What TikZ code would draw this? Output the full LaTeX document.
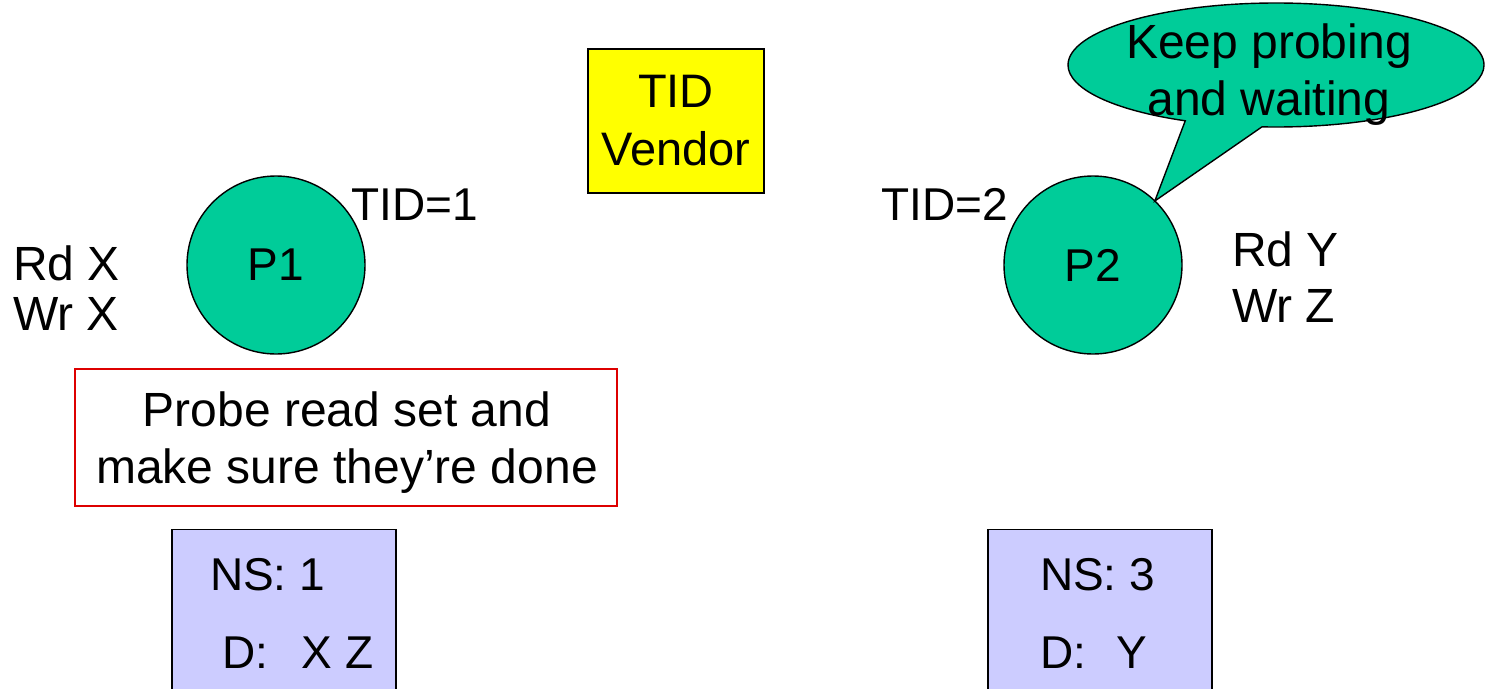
\documentclass[tikz,border=0pt]{standalone}
\usepackage{fontspec}
\setmainfont{Liberation Sans}
\usetikzlibrary{shapes.callouts}
\definecolor{procgreen}{HTML}{00CC99}
\definecolor{nsblue}{HTML}{CCCCFF}
\definecolor{vendyellow}{HTML}{FFFF00}
\definecolor{probered}{HTML}{DD0000}

\begin{document}
\begin{tikzpicture}[x=1pt,y=-1pt,
  txt/.style={font=\fontsize{46}{56}\selectfont, inner sep=0pt, outer sep=0pt},
  proc/.style={circle, draw=black, line width=1.4pt, fill=procgreen,
    minimum size=178pt, txt},
  vendorbox/.style={rectangle, draw=black, line width=1.4pt, fill=vendyellow,
    minimum width=176pt, minimum height=144pt, txt, align=center,
    font=\fontsize{47}{58}\selectfont},
  probebox/.style={rectangle, draw=probered, line width=1.4pt, fill=white,
    minimum width=542pt, minimum height=137pt, inner sep=0pt},
  nsbox/.style={rectangle, draw=black, line width=1.4pt, fill=nsblue,
    minimum width=224pt, minimum height=200pt, inner sep=0pt, anchor=north},
  bubble/.style={ellipse callout, draw=black, line width=1.4pt, fill=procgreen,
    minimum width=416pt, minimum height=124pt, inner sep=0pt,
    callout pointer arc=22},
  ops/.style={txt, align=left}
]
\useasboundingbox (0,0) rectangle (1485,688);
\clip (0,0) rectangle (1485,688);

% TID vendor
\node[vendorbox] (vendor) at (676,121) {TID\\Vendor};

% processors
\node[proc] (p1) at (276,265) {P1};
\node[proc] (p2) at (1093,265) {P2};

% assigned transaction ids
\node[txt, anchor=base] (tid1) at (415,220) {TID=1};
\node[txt, anchor=base] (tid2) at (945,220) {TID=2};

% read / write sets
\node[ops, anchor=west, font=\fontsize{48}{50}\selectfont] (ops1) at (13,288.5) {Rd X\\Wr X};
\node[ops, anchor=west, font=\fontsize{48}{56}\selectfont] (ops2) at (1232,277) {Rd Y\\Wr Z};

% speech bubble of P2
\node[bubble, callout absolute pointer={(p2.46)}] (wait) at (1276,65) {};
\node[txt, align=center, font=\fontsize{48}{57}\selectfont] (waittext) at (1269,74.5)
  {Keep probing\\and waiting};

% probe note of P1
\node[probebox] (probe) at (346,437.5) {};
\node[txt, align=center, font=\fontsize{48}{57}\selectfont] (probetext) at (347,443)
  {Probe read set and\\make sure they’re done};

% name-server boxes
\node[nsbox] (ns1) at (284,529) {};
\node[txt, anchor=base west] (ns1a) at (210,590) {NS: 1};
\node[txt, anchor=base west] (ns1b) at (222,668) {D:\hspace{34pt}X Z};

\node[nsbox] (ns3) at (1100,529) {};
\node[txt, anchor=base west] (ns3a) at (1040,590) {NS: 3};
\node[txt, anchor=base west] (ns3b) at (1040,668) {D:\hspace{30pt}Y};
\end{tikzpicture}
\end{document}
